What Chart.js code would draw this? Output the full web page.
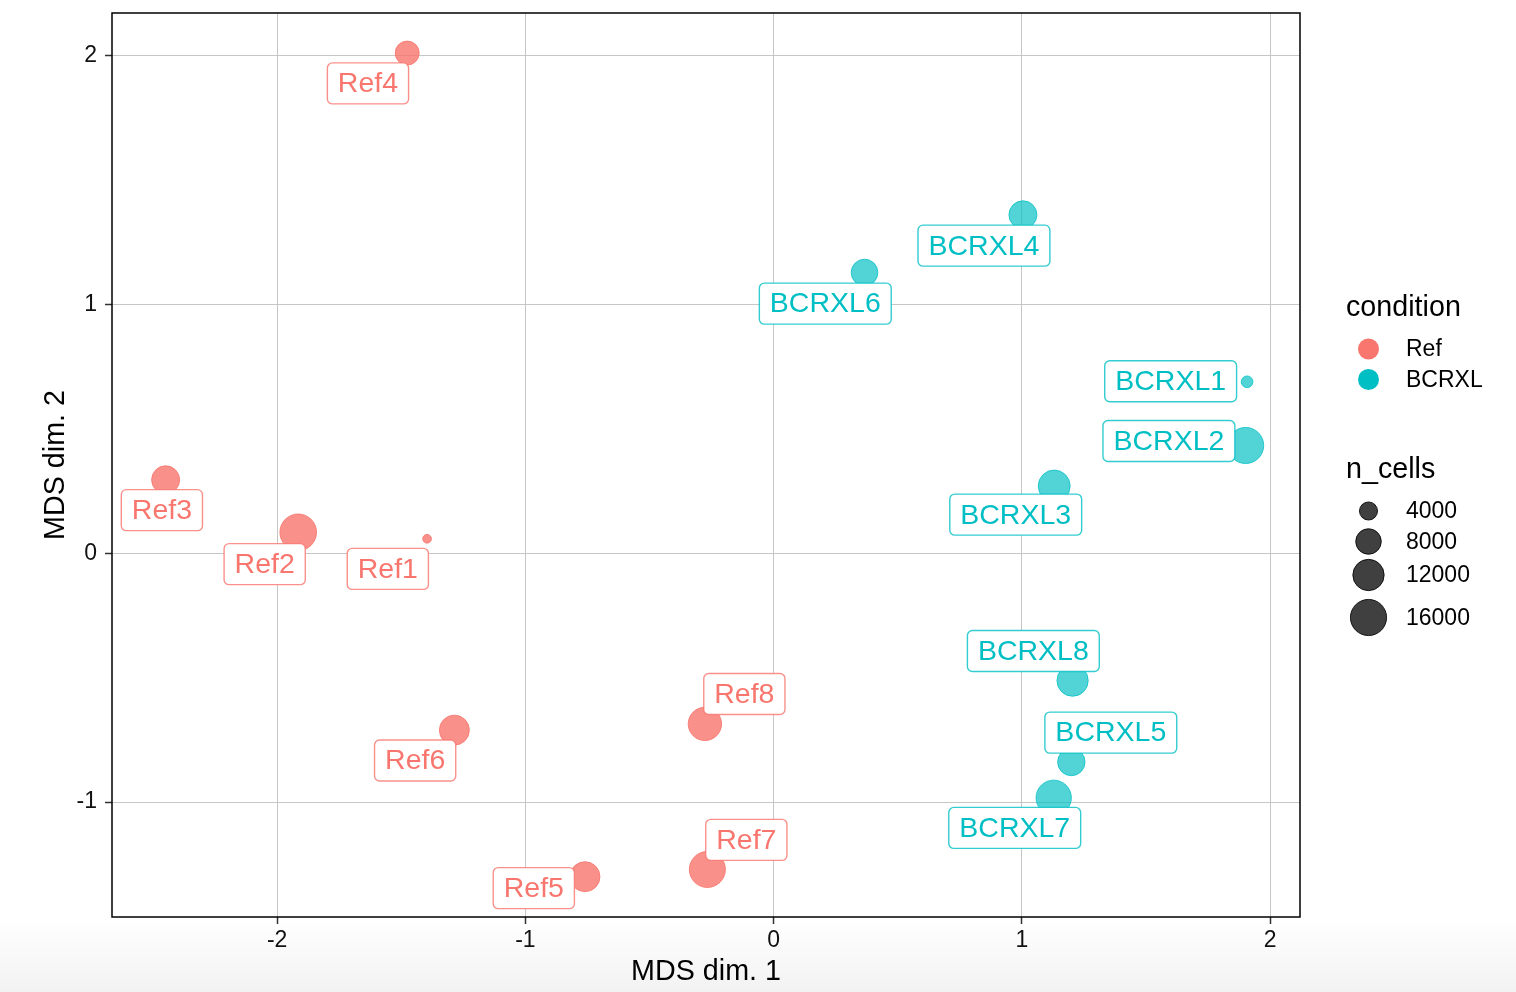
<!DOCTYPE html>
<html>
<head>
<meta charset="utf-8">
<title>MDS plot</title>
<script src="https://cdn.jsdelivr.net/npm/chart.js@4.4.1/dist/chart.umd.min.js"></script>
<style>
  html, body {
    margin: 0;
    padding: 0;
  }
  body {
    width: 1516px;
    height: 992px;
    overflow: hidden;
    background: linear-gradient(to bottom, #ffffff 0px, #ffffff 918px, #f2f2f2 992px);
  }
  canvas { display: block; }
</style>
</head>
<body>
<canvas id="mdsChart" width="1516" height="992"></canvas>
<script>
"use strict";

// samples per condition
const refNames = ['Ref1', 'Ref2', 'Ref3', 'Ref4', 'Ref5', 'Ref6', 'Ref7', 'Ref8'];
const refX = [-1.396, -1.915, -2.449, -1.476, -0.760, -1.286, -0.267, -0.277];
const refY = [0.058, 0.084, 0.295, 2.010, -1.300, -0.711, -1.271, -0.686];
const refCells = [930, 16400, 9600, 7050, 11000, 11000, 15900, 13600];
// where the repelled labels ended up
const refLabelX = [-1.554, -2.050, -2.464, -1.634, -0.966, -1.444, -0.110, -0.118];
const refLabelY = [-0.063, -0.044, 0.173, 1.888, -1.346, -0.833, -1.152, -0.566];

const bcrxlNames = ['BCRXL1', 'BCRXL2', 'BCRXL3', 'BCRXL4', 'BCRXL5', 'BCRXL6', 'BCRXL7', 'BCRXL8'];
const bcrxlX = [1.907, 1.901, 1.130, 1.004, 1.199, 0.366, 1.128, 1.204];
const bcrxlY = [0.689, 0.433, 0.270, 1.360, -0.839, 1.128, -0.983, -0.512];
const bcrxlCells = [1670, 16000, 12500, 9600, 9200, 8700, 15300, 12000];
const bcrxlLabelX = [1.599, 1.592, 0.975, 0.847, 1.358, 0.208, 0.971, 1.046];
const bcrxlLabelY = [0.691, 0.451, 0.155, 1.236, -0.721, 1.003, -1.104, -0.393];

const conditions = ['Ref', 'BCRXL'];
const conditionColors = ['248, 118, 109', '0, 191, 196'];

const sizeBreaks = [4000, 8000, 12000, 16000];

const xTicks = [-2, -1, 0, 1, 2];
const yTicks = [-1, 0, 1, 2];

const FONT = '"Liberation Sans", Arial, Helvetica, sans-serif';

// area of the point follows n_cells
function cellRadius(n) {
  return Math.sqrt(n / 49);
}

function makePoints(xs, ys, cells) {
  return xs.map((x, i) => ({ x: x, y: ys[i], r: cellRadius(cells[i]) }));
}

const labelGroups = [
  { names: refNames, lx: refLabelX, ly: refLabelY, col: conditionColors[0] },
  { names: bcrxlNames, lx: bcrxlLabelX, ly: bcrxlLabelY, col: conditionColors[1] }
];

function roundRect(ctx, x, y, w, h, r) {
  ctx.beginPath();
  ctx.moveTo(x + r, y);
  ctx.lineTo(x + w - r, y);
  ctx.arcTo(x + w, y, x + w, y + r, r);
  ctx.lineTo(x + w, y + h - r);
  ctx.arcTo(x + w, y + h, x + w - r, y + h, r);
  ctx.lineTo(x + r, y + h);
  ctx.arcTo(x, y + h, x, y + h - r, r);
  ctx.lineTo(x, y + r);
  ctx.arcTo(x, y, x + r, y, r);
  ctx.closePath();
}

// panel border, sample labels and the two legends
const decorations = {
  id: 'decorations',
  afterDatasetsDraw(chart) {
    const ctx = chart.ctx;
    const xs = chart.scales.x, ys = chart.scales.y;

    ctx.save();
    ctx.font = '28.5px ' + FONT;
    ctx.textAlign = 'center';
    ctx.textBaseline = 'middle';
    labelGroups.forEach(g => {
      g.names.forEach((name, i) => {
        const cx = xs.getPixelForValue(g.lx[i]);
        const cy = ys.getPixelForValue(g.ly[i]);
        const w = ctx.measureText(name).width + 21;
        const h = 41;
        roundRect(ctx, cx - w / 2, cy - h / 2, w, h, 5);
        ctx.fillStyle = '#ffffff';
        ctx.fill();
        ctx.lineWidth = 1.4;
        ctx.strokeStyle = 'rgba(' + g.col + ', 0.8)';
        ctx.stroke();
        ctx.fillStyle = 'rgb(' + g.col + ')';
        ctx.fillText(name, cx, cy + 1);
      });
    });
    ctx.restore();

    const a = chart.chartArea;
    ctx.save();
    ctx.strokeStyle = '#000000';
    ctx.lineWidth = 1.5;
    ctx.strokeRect(a.left, a.top, a.right - a.left, a.bottom - a.top);
    ctx.restore();
  },
  afterDraw(chart) {
    const ctx = chart.ctx;
    ctx.save();
    ctx.fillStyle = '#000000';
    ctx.textAlign = 'left';
    ctx.textBaseline = 'alphabetic';
    ctx.font = '28.7px ' + FONT;
    ctx.fillText('condition', 1346, 316);

    ctx.textBaseline = 'middle';
    conditions.forEach((c, i) => {
      const cy = 349 + i * 30.5;
      ctx.beginPath();
      ctx.arc(1368.5, cy, 10.5, 0, Math.PI * 2);
      ctx.fillStyle = 'rgb(' + conditionColors[i] + ')';
      ctx.fill();
      ctx.fillStyle = '#000000';
      ctx.font = '23px ' + FONT;
      ctx.fillText(c, 1406, cy + 1);
    });

    ctx.textBaseline = 'alphabetic';
    ctx.font = '28.7px ' + FONT;
    ctx.fillText('n_cells', 1346, 478);

    const sizeY = [511, 541.5, 575, 617.5];
    ctx.textBaseline = 'middle';
    sizeBreaks.forEach((n, i) => {
      ctx.beginPath();
      ctx.arc(1368.5, sizeY[i], cellRadius(n), 0, Math.PI * 2);
      ctx.fillStyle = 'rgba(0, 0, 0, 0.75)';
      ctx.fill();
      ctx.lineWidth = 1;
      ctx.strokeStyle = 'rgba(0, 0, 0, 0.85)';
      ctx.stroke();
      ctx.fillStyle = '#000000';
      ctx.font = '23px ' + FONT;
      ctx.fillText(String(n), 1406, sizeY[i] + 1);
    });
    ctx.restore();
  }
};

const mdsConfig = {
  type: 'bubble',
  data: {
    datasets: [
      {
        label: conditions[0],
        data: makePoints(refX, refY, refCells),
        backgroundColor: 'rgba(' + conditionColors[0] + ', 0.8)',
        borderColor: 'rgba(' + conditionColors[0] + ', 0.85)',
        borderWidth: 1
      },
      {
        label: conditions[1],
        data: makePoints(bcrxlX, bcrxlY, bcrxlCells),
        backgroundColor: 'rgba(' + conditionColors[1] + ', 0.68)',
        borderColor: 'rgba(' + conditionColors[1] + ', 0.75)',
        borderWidth: 1
      }
    ]
  },
  options: {
    responsive: false,
    animation: false,
    devicePixelRatio: 1,
    layout: {
      autoPadding: false,
      padding: { left: 0, top: 13, right: 216, bottom: 0 }
    },
    plugins: {
      legend: { display: false },
      tooltip: { enabled: false }
    },
    elements: {
      point: { hoverRadius: 0 }
    },
    scales: {
      x: {
        type: 'linear',
        position: 'bottom',
        min: -2.665,
        max: 2.12,
        afterBuildTicks: (scale) => { scale.ticks = xTicks.map(v => ({ value: v })); },
        afterFit: (scale) => {
          scale.height = 75;
          scale.paddingLeft = 0;
          scale.paddingRight = 0;
        },
        border: { display: false },
        grid: {
          color: '#c6c6c6',
          lineWidth: 1,
          drawTicks: true,
          tickLength: 7,
          tickColor: '#333333',
          tickWidth: 1.5
        },
        ticks: {
          color: '#111111',
          font: { family: FONT, size: 23 },
          padding: 3,
          maxRotation: 0
        },
        title: {
          display: true,
          text: 'MDS dim. 1',
          color: '#000000',
          font: { family: FONT, size: 28.7 },
          padding: 3
        }
      },
      y: {
        type: 'linear',
        min: -1.462,
        max: 2.171,
        afterBuildTicks: (scale) => { scale.ticks = yTicks.map(v => ({ value: v })); },
        afterFit: (scale) => {
          scale.width = 112;
          scale.paddingTop = 0;
          scale.paddingBottom = 0;
        },
        border: { display: false },
        grid: {
          color: '#c6c6c6',
          lineWidth: 1,
          drawTicks: true,
          tickLength: 7,
          tickColor: '#333333',
          tickWidth: 1.5
        },
        ticks: {
          color: '#111111',
          font: { family: FONT, size: 23 },
          padding: 8
        },
        title: {
          display: true,
          text: 'MDS dim. 2',
          color: '#000000',
          font: { family: FONT, size: 28.7 },
          padding: 39
        }
      }
    }
  },
  plugins: [decorations]
};

const mdsChart = new Chart('mdsChart', mdsConfig);
</script>
</body>
</html>
